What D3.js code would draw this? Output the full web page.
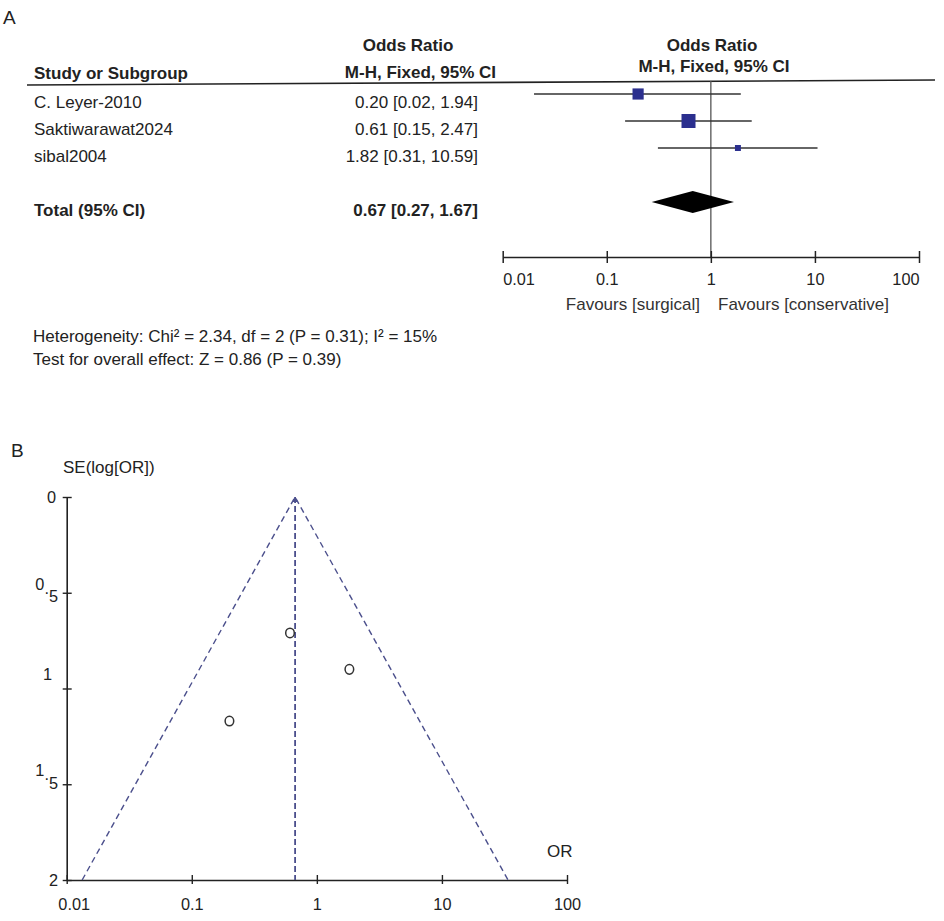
<!DOCTYPE html>
<html>
<head>
<meta charset="utf-8">
<script src="https://cdn.jsdelivr.net/npm/d3@7/dist/d3.min.js"></script>
<style>
  html,body{margin:0;padding:0;background:#fff;}
  svg text{font-family:"Liberation Sans",Arial,sans-serif;fill:#222;}
</style>
</head>
<body>
<svg id="chart" width="944" height="921"></svg>
<script>
// ---------- data ----------
const studies = ["C. Leyer-2010", "Saktiwarawat2024", "sibal2004"];
const orValues = [0.20, 0.61, 1.82];
const ciLower = [0.02, 0.15, 0.31];
const ciUpper = [1.94, 2.47, 10.59];
const weights = [35, 55, 10];
const ciLabels = ["0.20 [0.02, 1.94]", "0.61 [0.15, 2.47]", "1.82 [0.31, 10.59]"];
const totalOR = 0.67, totalLower = 0.27, totalUpper = 1.67;
const totalLabel = "0.67 [0.27, 1.67]";
const seValues = [1.17, 0.71, 0.90];
const orTicks = [0.01, 0.1, 1, 10, 100];
const orTickLabels = ["0.01", "0.1", "1", "10", "100"];
const seTicks = [0, 0.5, 1, 1.5, 2];

const svg = d3.select("#chart");
const FS = 17;
const TFS = 16.3;

// ---------- Panel A : forest plot ----------
svg.append("text").attr("x", 3).attr("y", 24).style("font-size", "19px").text("A");

// header
svg.append("text").attr("x", 408).attr("y", 51).attr("text-anchor", "middle")
  .style("font-size", FS + "px").style("font-weight", "bold").text("Odds Ratio");
svg.append("text").attr("x", 496).attr("y", 78).attr("text-anchor", "end")
  .style("font-size", FS + "px").style("font-weight", "bold").text("M-H, Fixed, 95% CI");
svg.append("text").attr("x", 34).attr("y", 79)
  .style("font-size", FS + "px").style("font-weight", "bold").text("Study or Subgroup");
svg.append("text").attr("x", 712).attr("y", 51).attr("text-anchor", "middle")
  .style("font-size", FS + "px").style("font-weight", "bold").text("Odds Ratio");
svg.append("text").attr("x", 714).attr("y", 72).attr("text-anchor", "middle")
  .style("font-size", FS + "px").style("font-weight", "bold").text("M-H, Fixed, 95% CI");

svg.append("line").attr("x1", 27).attr("y1", 85).attr("x2", 935).attr("y2", 80)
  .attr("stroke", "#222").attr("stroke-width", 1.6);

const fx = d3.scaleLog().domain([0.01, 100]).range([502.7, 919]);
const rowY = d3.scaleLinear().domain([0, 4]).range([94, 202]);
const textOffset = 14;
const sq = d3.scaleSqrt().domain([0, d3.max(weights)]).range([0, 14]);

// vertical line of no effect
svg.append("line").attr("x1", fx(1)).attr("x2", fx(1)).attr("y1", 81).attr("y2", 257)
  .attr("stroke", "#555").attr("stroke-width", 1.3);

// study rows
studies.forEach((s, i) => {
  const y = rowY(i);
  svg.append("text").attr("x", 34).attr("y", y + textOffset).style("font-size", FS + "px").text(s);
  svg.append("text").attr("x", 478).attr("y", y + textOffset).attr("text-anchor", "end")
    .style("font-size", FS + "px").text(ciLabels[i]);
  svg.append("line").attr("x1", fx(ciLower[i])).attr("x2", fx(ciUpper[i]))
    .attr("y1", y).attr("y2", y).attr("stroke", "#333").attr("stroke-width", 1.3);
  const size = sq(weights[i]);
  svg.append("rect").attr("x", fx(orValues[i]) - size / 2).attr("y", y - size / 2)
    .attr("width", size).attr("height", size).attr("fill", "#2b2f8e");
});

// total
const ty = rowY(4);
svg.append("text").attr("x", 34).attr("y", ty + textOffset).style("font-size", FS + "px")
  .style("font-weight", "bold").text("Total (95% CI)");
svg.append("text").attr("x", 478).attr("y", ty + textOffset).attr("text-anchor", "end")
  .style("font-size", FS + "px").style("font-weight", "bold").text(totalLabel);
svg.append("path")
  .attr("d", d3.line()([[fx(totalLower), ty], [fx(totalOR), ty - 11], [fx(totalUpper), ty], [fx(totalOR), ty + 11]]) + "Z")
  .attr("fill", "#000");

// forest axis
const fAxisY = 257;
const fAxis = svg.append("g").attr("transform", `translate(0,${fAxisY})`)
  .call(d3.axisBottom(fx).tickValues(orTicks).tickSize(6).tickSizeOuter(0).tickFormat((d, i) => orTickLabels[i]));
fAxis.select(".domain").attr("stroke", "#222").attr("stroke-width", 1.5);
fAxis.selectAll(".tick line").attr("y1", -6).attr("y2", 6).attr("stroke", "#222").attr("stroke-width", 1.5);
fAxis.selectAll(".tick text").attr("y", 28).attr("dy", 0)
  .style("font-size", TFS + "px").style("font-family", '"Liberation Sans",Arial,sans-serif').attr("fill", "#222")
  .attr("text-anchor", (d, i) => i === 0 ? "start" : (i === orTicks.length - 1 ? "end" : "middle"));
svg.append("text").attr("x", 700).attr("y", 310).attr("text-anchor", "end")
  .style("font-size", FS + "px").style("fill", "#333").text("Favours [surgical]");
svg.append("text").attr("x", 718).attr("y", 310)
  .style("font-size", FS + "px").style("fill", "#333").text("Favours [conservative]");

svg.append("text").attr("x", 33).attr("y", 342).style("font-size", FS + "px")
  .text("Heterogeneity: Chi² = 2.34, df = 2 (P = 0.31); I² = 15%");
svg.append("text").attr("x", 33).attr("y", 365).style("font-size", FS + "px")
  .text("Test for overall effect: Z = 0.86 (P = 0.39)");

// ---------- Panel B : funnel plot ----------
svg.append("text").attr("x", 11).attr("y", 457).style("font-size", "19px").text("B");
svg.append("text").attr("x", 63).attr("y", 473).style("font-size", FS + "px").text("SE(log[OR])");

const gx = d3.scaleLog().domain([0.01, 100]).range([66.7, 567]);
const gy = d3.scaleLinear().domain([0, 2]).range([497, 880]);

// y axis
const yAxis = svg.append("g").attr("transform", `translate(${gx(0.01)},0)`)
  .call(d3.axisLeft(gy).tickValues(seTicks).tickSize(4).tickSizeOuter(0).tickFormat(""));
yAxis.select(".domain").attr("stroke", "#222").attr("stroke-width", 1.6);
yAxis.selectAll(".tick line").attr("x1", -4).attr("x2", 5).attr("stroke", "#222").attr("stroke-width", 1.4);

// y tick labels (as rendered in the reference)
const yl = svg.append("g").style("font-size", TFS + "px");
yl.append("text").attr("x", 56).attr("y", gy(0) + 6).attr("text-anchor", "end").text("0");
const t05 = yl.append("text").attr("x", 58).attr("y", gy(0.5) - 3).attr("text-anchor", "end");
t05.append("tspan").text("0");
t05.append("tspan").attr("dy", 4).text(".");
t05.append("tspan").attr("dy", 8).text("5");
yl.append("text").attr("x", 52).attr("y", gy(1) - 9).attr("text-anchor", "end").text("1");
const t15 = yl.append("text").attr("x", 58).attr("y", gy(1.5) - 8).attr("text-anchor", "end");
t15.append("tspan").text("1");
t15.append("tspan").attr("dy", 4).text(".");
t15.append("tspan").attr("dy", 9).text("5");
yl.append("text").attr("x", 58).attr("y", gy(2) + 6).attr("text-anchor", "end").text("2");

// x axis
const xAxis = svg.append("g").attr("transform", `translate(0,${gy(2)})`)
  .call(d3.axisBottom(gx).tickValues(orTicks).tickSize(4).tickSizeOuter(0).tickFormat((d, i) => orTickLabels[i]));
xAxis.select(".domain").attr("stroke", "#222").attr("stroke-width", 1.6);
xAxis.selectAll(".tick line").attr("y1", -5).attr("y2", 4).attr("stroke", "#222").attr("stroke-width", 1.4);
xAxis.selectAll(".tick text").attr("y", 30).attr("dy", 0)
  .style("font-size", TFS + "px").style("font-family", '"Liberation Sans",Arial,sans-serif').attr("fill", "#222")
  .attr("x", (d, i) => i === 0 ? 7 : 0);
svg.append("text").attr("x", 547).attr("y", 857).style("font-size", FS + "px").text("OR");

// funnel (pseudo 95% CI limits)
const seMax = 2;
const lo = totalOR * Math.exp(-1.96 * seMax), hi = totalOR * Math.exp(1.96 * seMax);
const dashColor = "#4b4f8c";
svg.append("path")
  .attr("d", d3.line()([[gx(lo), gy(seMax)], [gx(totalOR), gy(0)], [gx(hi), gy(seMax)]]))
  .attr("fill", "none").attr("stroke", dashColor).attr("stroke-width", 1.4).attr("stroke-dasharray", "6,4");
svg.append("line").attr("x1", gx(totalOR)).attr("x2", gx(totalOR)).attr("y1", gy(0)).attr("y2", gy(seMax))
  .attr("stroke", dashColor).attr("stroke-width", 1.8).attr("stroke-dasharray", "6,3");
svg.append("path")
  .attr("d", d3.line()([[gx(totalOR) - 3, gy(0) + 5], [gx(totalOR), gy(0)], [gx(totalOR) + 3, gy(0) + 5]]) + "Z")
  .attr("fill", dashColor);

// study points
svg.append("g").selectAll("ellipse").data(orValues).join("ellipse")
  .attr("cx", d => gx(d)).attr("cy", (d, i) => gy(seValues[i]))
  .attr("rx", 4.3).attr("ry", 4.8)
  .attr("fill", "none").attr("stroke", "#333").attr("stroke-width", 1.5);
</script>
</body>
</html>
